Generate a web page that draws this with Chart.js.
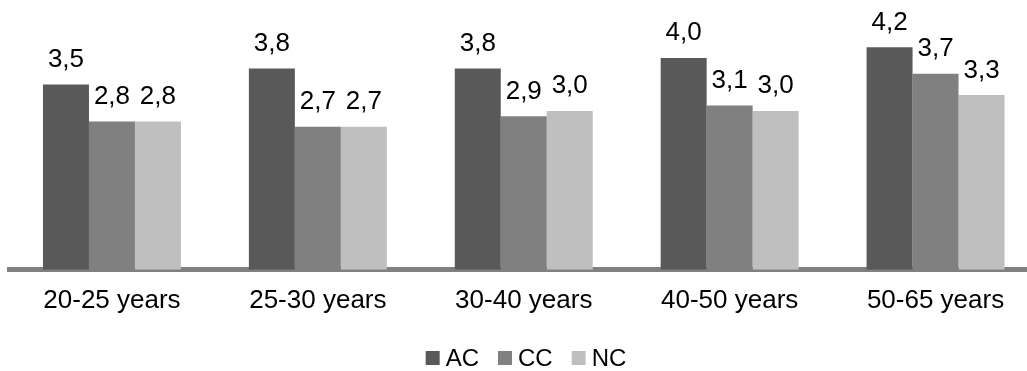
<!DOCTYPE html>
<html>
<head>
<meta charset="utf-8">
<script src="https://cdn.jsdelivr.net/npm/chart.js@4/dist/chart.umd.min.js"></script>
<style>
  html, body { margin: 0; padding: 0; background: #ffffff; overflow: hidden; }
  #wrap { position: relative; width: 1056px; height: 371px; }
</style>
</head>
<body>
<div id="wrap"><canvas id="c" width="1056" height="371"></canvas></div>
<script>
// Age groups and mean scores per group
const categories = ['20-25 years', '25-30 years', '30-40 years', '40-50 years', '50-65 years'];
const seriesNames = ['AC', 'CC', 'NC'];
const acValues = [3.5, 3.8, 3.8, 4.0, 4.2];
const ccValues = [2.8, 2.7, 2.9, 3.1, 3.7];
const ncValues = [2.8, 2.7, 3.0, 3.0, 3.3];
const seriesColors = ['#595959', '#808080', '#bfbfbf'];

const FONT = 'Liberation Sans, Arial, Helvetica, sans-serif';

const fmt = v => v.toFixed(1).replace('.', ',');

// Values written above each bar
const valueLabels = {
  id: 'valueLabels',
  afterDatasetsDraw(chart) {
    const ctx = chart.ctx;
    ctx.save();
    ctx.font = '26px ' + FONT;
    ctx.fillStyle = '#000000';
    ctx.textAlign = 'center';
    ctx.textBaseline = 'alphabetic';
    chart.data.datasets.forEach((ds, i) => {
      chart.getDatasetMeta(i).data.forEach((bar, j) => {
        ctx.fillText(fmt(ds.data[j]), bar.x, bar.y - 17.5);
      });
    });
    ctx.restore();
  }
};

// Compact legend row centred under the plot
const bottomLegend = {
  id: 'bottomLegend',
  afterDraw(chart) {
    const ctx = chart.ctx;
    ctx.save();
    ctx.font = '24px ' + FONT;
    ctx.textBaseline = 'middle';
    ctx.textAlign = 'left';
    const box = 14, gapText = 6, gapItem = 19;
    const items = chart.data.datasets.map(ds => ({ text: ds.label, color: ds.backgroundColor, w: ctx.measureText(ds.label).width }));
    let total = items.reduce((s, it) => s + box + gapText + it.w, 0) + gapItem * (items.length - 1);
    let x = chart.width / 2 - total / 2 - 2;
    const cy = 358;
    items.forEach(it => {
      ctx.fillStyle = it.color;
      ctx.fillRect(x, cy - box / 2, box, box);
      x += box + gapText;
      ctx.fillStyle = '#000000';
      ctx.fillText(it.text, x, cy + 1);
      x += it.w + gapItem;
    });
    ctx.restore();
  }
};

const values = [acValues, ccValues, ncValues];

new Chart(document.getElementById('c'), {
  type: 'bar',
  data: {
    labels: categories,
    datasets: seriesNames.map((name, i) => ({
      label: name,
      data: values[i],
      backgroundColor: seriesColors[i],
      borderWidth: 0,
      categoryPercentage: 0.67,
      barPercentage: 1.0
    }))
  },
  options: {
    responsive: false,
    animation: false,
    devicePixelRatio: 1,
    layout: { padding: { left: 9, right: 17.5, top: 5, bottom: 40 } },
    plugins: {
      legend: { display: false },
      tooltip: { enabled: false }
    },
    scales: {
      x: {
        z: 1,
        grid: { display: false, drawTicks: false },
        border: { display: true, color: '#808080', width: 5 },
        ticks: {
          color: '#000000',
          font: { family: FONT, size: 26 },
          padding: 15,
          maxRotation: 0,
          autoSkip: false
        }
      },
      y: {
        display: false,
        min: 0,
        max: 5
      }
    }
  },
  plugins: [valueLabels, bottomLegend]
});
</script>
</body>
</html>
